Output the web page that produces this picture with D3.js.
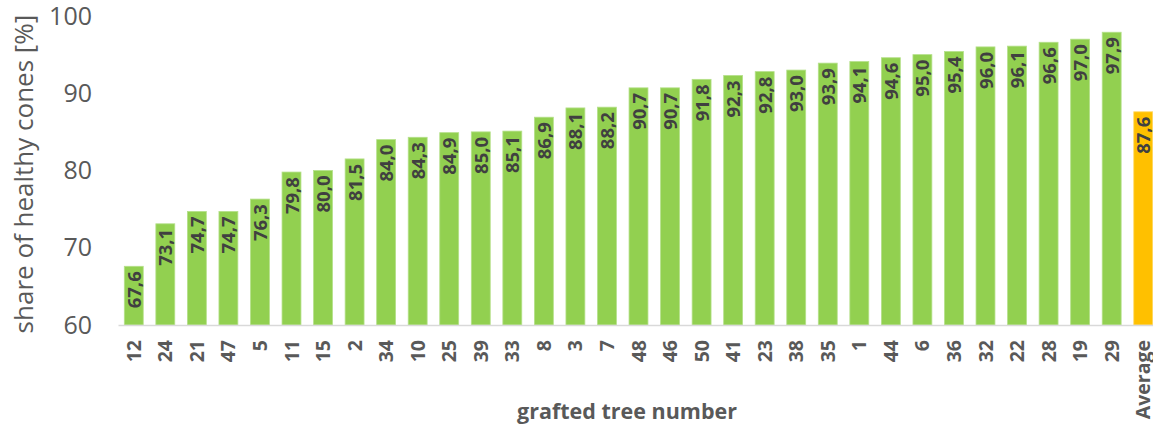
<!DOCTYPE html>
<html>
<head>
<meta charset="utf-8">
<script src="https://cdn.jsdelivr.net/npm/d3@7"></script>
<style>
  body { margin: 0; background: #fff; }
  svg { display: block; font-family: "Open Sans", sans-serif; }
</style>
</head>
<body>
<div id="chart"></div>
<script>
// tree numbers sorted by share, last one is the average
var trees = ["12", "24", "21", "47", "5", "11", "15", "2", "34", "10", "25", "39", "33", "8", "3", "7",
  "48", "46", "50", "41", "23", "38", "35", "1", "44", "6", "36", "32", "22", "28", "19", "29", "Average"];
var shares = [67.6, 73.1, 74.7, 74.7, 76.3, 79.8, 80.0, 81.5, 84.0, 84.3, 84.9, 85.0, 85.1, 86.9, 88.1, 88.2,
  90.7, 90.7, 91.8, 92.3, 92.8, 93.0, 93.9, 94.1, 94.6, 95.0, 95.4, 96.0, 96.1, 96.6, 97.0, 97.9, 87.6];
var yTicks = [60, 70, 80, 90, 100];

var width = 1153, height = 428;
var margin = { top: 16, right: -6, bottom: 103, left: 118 };

var svg = d3.select('#chart').append('svg')
  .attr('width', width)
  .attr('height', height);

var x = d3.scaleBand()
  .domain(trees)
  .range([margin.left, width - margin.right])
  .paddingInner(0.4)
  .paddingOuter(0.2);

var y = d3.scaleLinear()
  .domain([60, 100])
  .range([height - margin.bottom, margin.top]);

var data = d3.zip(trees, shares);

// bars
svg.append('g').selectAll('rect')
  .data(data)
  .join('rect')
  .attr('x', (d) => x(d[0]))
  .attr('y', (d) => y(d[1]))
  .attr('width', x.bandwidth())
  .attr('height', (d) => y(60) - y(d[1]))
  .attr('fill', (d) => d[0] === 'Average' ? '#ffc000' : '#92d050')
  .attr('stroke', (d) => d[0] === 'Average' ? '#ffd966' : '#b5e08a')
  .attr('stroke-width', 0.8);

// value labels inside bars
svg.append('g').selectAll('text')
  .data(data)
  .join('text')
  .attr('transform', (d) => 'translate(' + (x(d[0]) + x.bandwidth() / 2 + 7) + ',' + (y(d[1]) + 5) + ') rotate(-90)')
  .attr('text-anchor', 'end')
  .style('font-size', '18.5px')
  .style('font-weight', 'bold')
  .style('fill', '#404040')
  .text((d) => d3.format('.1f')(d[1]).replace('.', ','));

// x axis
var xAxis = svg.append('g')
  .attr('transform', 'translate(0,' + y(60) + ')')
  .call(d3.axisBottom(x).tickSize(0).tickPadding(0));
xAxis.select('.domain').attr('stroke', '#d9d9d9').attr('stroke-width', 1.5);
xAxis.selectAll('.tick text')
  .attr('transform', 'translate(7,15) rotate(-90)')
  .attr('dy', 0)
  .attr('y', 0)
  .attr('text-anchor', 'end')
  .style('font-family', '"Open Sans", sans-serif')
  .style('font-size', '19.5px')
  .style('font-weight', 'bold')
  .style('fill', '#595959');

// y axis, labels only
var yAxis = svg.append('g')
  .attr('transform', 'translate(92,0)')
  .call(d3.axisLeft(y).tickValues(yTicks).tickSize(0).tickPadding(0));
yAxis.select('.domain').remove();
yAxis.selectAll('.tick text')
  .style('font-family', '"Open Sans", sans-serif')
  .style('font-size', '25px')
  .style('fill', '#595959');

// axis titles
svg.append('text')
  .attr('transform', 'translate(33,' + 174 + ') rotate(-90)')
  .attr('text-anchor', 'middle')
  .style('font-size', '26px')
  .style('fill', '#595959')
  .text('share of healthy cones [%]');

svg.append('text')
  .attr('x', 627)
  .attr('y', 419)
  .attr('text-anchor', 'middle')
  .style('font-size', '21.5px')
  .style('font-weight', 'bold')
  .style('fill', '#595959')
  .text('grafted tree number');
</script>
</body>
</html>
